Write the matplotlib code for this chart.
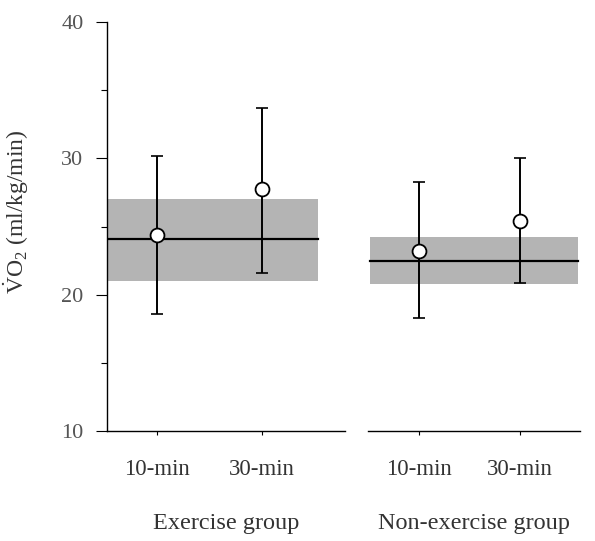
"""Oxygen uptake at 10 and 30 min, exercise vs non-exercise group."""
import matplotlib
matplotlib.use("Agg")
import matplotlib.pyplot as plt

plt.rcParams["font.family"] = ["Liberation Serif", "DejaVu Serif"]
plt.rcParams["mathtext.fontset"] = "custom"
plt.rcParams["mathtext.rm"] = "Liberation Serif"

groups = ["Exercise group", "Non-exercise group"]
times = ["10-min", "30-min"]
# mean and error-bar ends per group, order: 10-min, 30-min
means = [[24.4, 27.75], [23.2, 25.4]]
err_lo = [[18.6, 21.6], [18.3, 20.85]]
err_hi = [[30.2, 33.7], [28.3, 30.0]]
# baseline band (low, high) and baseline line per group
band_lo = [21.0, 20.8]
band_hi = [27.0, 24.2]
base = [24.1, 22.5]

fig = plt.figure(figsize=(5.95, 5.41), dpi=100)
ax_l = fig.add_axes([0.180, 0.2033, 0.400, 0.756])
ax_r = fig.add_axes([0.6185, 0.2033, 0.356, 0.756], sharey=ax_l)
axes = [ax_l, ax_r]
xlims = [(0.524, 2.79), (0.495, 2.594)]
band_x = [(0.524, 2.53), (0.515, 2.574)]

tc = "#333333"
for i, ax in enumerate(axes):
    ax.set_xlim(*xlims[i])
    ax.set_ylim(10, 40)
    x0, x1 = band_x[i]
    ax.fill_between([x0, x1], band_lo[i], band_hi[i], color="#b4b4b4",
                    linewidth=0, zorder=1)
    ax.plot([x0, x1], [base[i], base[i]], color="black", lw=1.6, zorder=2)
    xs = [1, 2]
    for j, x in enumerate(xs):
        m = means[i][j]
        ax.errorbar(x, m, yerr=[[m - err_lo[i][j]], [err_hi[i][j] - m]],
                    fmt="none", ecolor="black", elinewidth=1.4, capsize=4,
                    capthick=1.2, zorder=3)
        ax.plot(x, m, "o", ms=10, mfc="white", mec="black", mew=1.3, zorder=4)
    ax.set_xticks(xs)
    ax.set_xticklabels(times, fontsize=16.5, color=tc)
    ax.tick_params(axis="x", length=3, width=0.8, pad=17)
    for s in ("top", "right"):
        ax.spines[s].set_visible(False)
    ax.spines["bottom"].set_linewidth(1.0)
    ax.text(0.5, -0.225, groups[i], transform=ax.transAxes, ha="center",
            va="center", fontsize=17.5, color=tc)

ax_l.set_yticks([10, 20, 30, 40])
ax_l.set_yticks([15, 25, 35], minor=True)
ax_l.tick_params(axis="y", which="major", length=8, width=0.8, labelsize=16,
                 labelcolor="#555555", pad=9)
ax_l.tick_params(axis="y", which="minor", length=4, width=0.8)
ax_l.spines["left"].set_linewidth(1.0)
ax_l.set_ylabel(r"$\dot{\mathrm{V}}\mathrm{O}_2$ (ml/kg/min)", fontsize=17,
                color=tc)
ax_l.yaxis.set_label_coords(-0.32, 0.535)

ax_r.spines["left"].set_visible(False)
ax_r.tick_params(axis="y", which="both", left=False, labelleft=False)

fig.savefig("out.png", dpi=100)
